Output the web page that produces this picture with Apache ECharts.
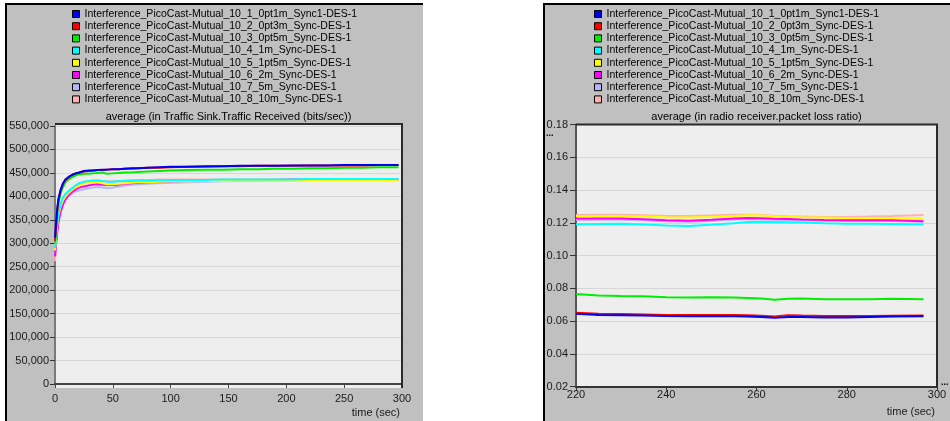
<!DOCTYPE html>
<html>
<head>
<meta charset="utf-8">
<script src="https://cdn.jsdelivr.net/npm/echarts@6/dist/echarts.min.js"></script>
<style>
  html, body { margin: 0; padding: 0; background: #ffffff; }
  #chart { width: 950px; height: 421px; }
</style>
</head>
<body>
<div id="chart"></div>
<script>
// Scenario names (legend entries) and their trace colours
const seriesNames = [
  'Interference_PicoCast-Mutual_10_1_0pt1m_Sync1-DES-1',
  'Interference_PicoCast-Mutual_10_2_0pt3m_Sync-DES-1',
  'Interference_PicoCast-Mutual_10_3_0pt5m_Sync-DES-1',
  'Interference_PicoCast-Mutual_10_4_1m_Sync-DES-1',
  'Interference_PicoCast-Mutual_10_5_1pt5m_Sync-DES-1',
  'Interference_PicoCast-Mutual_10_6_2m_Sync-DES-1',
  'Interference_PicoCast-Mutual_10_7_5m_Sync-DES-1',
  'Interference_PicoCast-Mutual_10_8_10m_Sync-DES-1'
];
const seriesColors = ['#0000F0', '#FF0000', '#00EE00', '#00FFFF', '#FFFF00', '#FF00FF', '#B4B4FF', '#FFB0B0'];

// Traffic Sink.Traffic Received (bits/sec), running average
const trafficTime = [0, 1, 2, 3, 5, 7, 9, 12, 15, 18, 21, 25, 29, 33, 37, 41, 45, 50, 55, 60, 66, 72, 80, 90, 100, 115, 130, 145, 160, 175, 190, 205, 220, 235, 250, 265, 280, 297];
const traffic_0pt1m = [312000, 345000, 375000, 395000, 415000, 428000, 436000, 442000, 446000, 449000, 451000, 454000, 455000, 455000, 456000, 457000, 457000, 458000, 458000, 459000, 460000, 460000, 461000, 462000, 463000, 463000, 464000, 464000, 465000, 465000, 465000, 466000, 466000, 466000, 467000, 467000, 467000, 467000];
const traffic_0pt3m = [305000, 340000, 372000, 393000, 414000, 427000, 435000, 441000, 446000, 449000, 451000, 453000, 454000, 455000, 456000, 456000, 457000, 458000, 458000, 459000, 459000, 460000, 461000, 461000, 462000, 463000, 463000, 464000, 464000, 465000, 465000, 465000, 466000, 466000, 466000, 466000, 467000, 467000];
const traffic_0pt5m = [300000, 335000, 365000, 385000, 408000, 420000, 430000, 437000, 441000, 445000, 447000, 448000, 448000, 449000, 450000, 451000, 448000, 449000, 450000, 451000, 451000, 452000, 453000, 454000, 455000, 456000, 457000, 457000, 458000, 458000, 459000, 459000, 460000, 460000, 461000, 461000, 462000, 462000];
const traffic_1m    = [290000, 320000, 345000, 365000, 385000, 398000, 405000, 412000, 418000, 424000, 428000, 431000, 433000, 434000, 434000, 433000, 431000, 431000, 432000, 433000, 433000, 434000, 434000, 434000, 435000, 435000, 435000, 436000, 436000, 436000, 436000, 436000, 437000, 437000, 437000, 437000, 437000, 437000];
const traffic_1pt5m = [285000, 315000, 340000, 360000, 380000, 392000, 400000, 408000, 414000, 419000, 423000, 427000, 429000, 430000, 430000, 428000, 426000, 426000, 427000, 428000, 429000, 430000, 430000, 431000, 432000, 432000, 433000, 433000, 434000, 434000, 434000, 434000, 435000, 435000, 435000, 435000, 435000, 435000];
const traffic_2m    = [272000, 300000, 325000, 345000, 368000, 383000, 393000, 403000, 410000, 415000, 419000, 421000, 423000, 425000, 426000, 425000, 424000, 424000, 425000, 427000, 428000, 429000, 430000, 431000, 432000, 433000, 434000, 434000, 435000, 435000, 435000, 436000, 436000, 436000, 436000, 436000, 436000, 436000];
const traffic_5m    = [280000, 305000, 330000, 350000, 372000, 386000, 395000, 403000, 407000, 411000, 413000, 415000, 417000, 419000, 420000, 419000, 418000, 419000, 421000, 423000, 425000, 426000, 427000, 428000, 429000, 430000, 431000, 432000, 433000, 433000, 434000, 434000, 435000, 435000, 435000, 436000, 436000, 436000];
const traffic_10m   = [262000, 300000, 330000, 352000, 378000, 393000, 402000, 410000, 417000, 422000, 426000, 430000, 432000, 433000, 434000, 433000, 432000, 432000, 433000, 434000, 435000, 435000, 435000, 436000, 436000, 436000, 436000, 436000, 436000, 436000, 436000, 436000, 436000, 436000, 436000, 436000, 436000, 436000];

// radio receiver.packet loss ratio, running average (220 s onwards)
const lossTime = [220, 225, 230, 235, 240, 245, 250, 255, 258, 261, 264, 267, 270, 275, 280, 285, 290, 297];
const loss_0pt1m = [0.0645, 0.0638, 0.0636, 0.0634, 0.0631, 0.0630, 0.0631, 0.0630, 0.0628, 0.0625, 0.0620, 0.0626, 0.0625, 0.0623, 0.0623, 0.0626, 0.0628, 0.0630];
const loss_0pt3m = [0.0652, 0.0645, 0.0643, 0.0641, 0.0638, 0.0637, 0.0638, 0.0638, 0.0636, 0.0633, 0.0628, 0.0636, 0.0634, 0.0631, 0.0631, 0.0632, 0.0633, 0.0634];
const loss_0pt5m = [0.0766, 0.0757, 0.0754, 0.0752, 0.0746, 0.0744, 0.0746, 0.0745, 0.0742, 0.0738, 0.0731, 0.0737, 0.0738, 0.0734, 0.0733, 0.0733, 0.0736, 0.0734];
const loss_1m    = [0.1191, 0.1193, 0.1194, 0.1190, 0.1184, 0.1181, 0.1188, 0.1198, 0.1205, 0.1206, 0.1205, 0.1204, 0.1202, 0.1198, 0.1195, 0.1194, 0.1193, 0.1190];
const loss_1pt5m = [0.1240, 0.1241, 0.1241, 0.1238, 0.1234, 0.1232, 0.1236, 0.1241, 0.1246, 0.1244, 0.1240, 0.1237, 0.1234, 0.1232, 0.1230, 0.1230, 0.1230, 0.1226];
const loss_2m    = [0.1226, 0.1226, 0.1226, 0.1222, 0.1216, 0.1213, 0.1219, 0.1226, 0.1230, 0.1228, 0.1225, 0.1223, 0.1221, 0.1218, 0.1216, 0.1216, 0.1216, 0.1210];
const loss_5m    = [0.1218, 0.1219, 0.1219, 0.1215, 0.1210, 0.1207, 0.1213, 0.1220, 0.1224, 0.1222, 0.1219, 0.1217, 0.1215, 0.1212, 0.1211, 0.1211, 0.1211, 0.1206];
const loss_10m   = [0.1248, 0.1250, 0.1250, 0.1246, 0.1242, 0.1241, 0.1245, 0.1249, 0.1250, 0.1247, 0.1243, 0.1240, 0.1238, 0.1236, 0.1236, 0.1238, 0.1241, 0.1248];

const trafficSets = [traffic_0pt1m, traffic_0pt3m, traffic_0pt5m, traffic_1m, traffic_1pt5m, traffic_2m, traffic_5m, traffic_10m];
const lossSets = [loss_0pt1m, loss_0pt3m, loss_0pt5m, loss_1m, loss_1pt5m, loss_2m, loss_5m, loss_10m];

const FONT = '"Liberation Sans", Arial, sans-serif';
const PANEL = '#C0C0C0';
const PLOT_BG = '#EEEEEE';

function pairs(t, v) { return t.map((x, i) => [x, v[i]]); }

function makeSeries(sets, times, axisIdx) {
  return sets.map((vals, i) => ({
    name: seriesNames[i],
    type: 'line',
    xAxisIndex: axisIdx,
    yAxisIndex: axisIdx,
    data: pairs(times, vals),
    showSymbol: false,
    symbol: 'none',
    lineStyle: { color: seriesColors[i], width: 2 },
    itemStyle: { color: seriesColors[i] },
    z: 20 - i,
    silent: true
  }));
}

function legendAt(left) {
  return {
    left: left, top: 7.9, orient: 'vertical', padding: 0,
    icon: 'rect', itemWidth: 7, itemHeight: 7, itemGap: 0,
    selectedMode: false,
    data: seriesNames,
    itemStyle: { borderColor: '#000', borderWidth: 1 },
    textStyle: { fontFamily: FONT, fontSize: 10.5, color: '#000', lineHeight: 12.2, padding: [0, 0, 0, 0] }
  };
}

function titleAt(text, cx) {
  return {
    text: text, left: cx, top: 111, textAlign: 'center', padding: 0,
    textStyle: { fontFamily: FONT, fontSize: 11, fontWeight: 'normal', color: '#000' }
  };
}

const axisLabelStyle = { fontFamily: FONT, fontSize: 11, color: '#1a1a1a' };

const chart = echarts.init(document.getElementById('chart'));

chart.setOption({
  animation: false,
  backgroundColor: '#ffffff',
  title: [
    titleAt('average (in Traffic Sink.Traffic Received (bits/sec))', 228.5),
    titleAt('average (in radio receiver.packet loss ratio)', 756.5)
  ],
  legend: [legendAt(72), legendAt(594)],
  grid: [
    { left: 55, top: 126, width: 347, height: 258, containLabel: false },
    { left: 576, top: 124.5, width: 361, height: 262.2, containLabel: false }
  ],
  xAxis: [
    {
      type: 'value', gridIndex: 0, min: 0, max: 300, interval: 50, offset: 4,
      axisLine: { lineStyle: { color: '#444', width: 2 } },
      axisTick: { length: 4, lineStyle: { color: '#444' } },
      axisLabel: Object.assign({ margin: 5 }, axisLabelStyle),
      splitLine: { show: false }
    },
    {
      type: 'value', gridIndex: 1, min: 220, max: 300, interval: 20,
      axisLine: { lineStyle: { color: '#333', width: 2 } },
      axisTick: { length: 4, lineStyle: { color: '#333' } },
      axisLabel: Object.assign({ margin: 3 }, axisLabelStyle),
      splitLine: { show: false }
    }
  ],
  yAxis: [
    {
      type: 'value', gridIndex: 0, min: 0, max: 550000, interval: 50000,
      axisLine: { show: true, lineStyle: { color: '#7a7a7a', width: 2 } },
      axisTick: { show: true, length: 5, lineStyle: { color: '#333' } },
      axisLabel: Object.assign({ margin: 6, formatter: v => v.toLocaleString('en-US') }, axisLabelStyle),
      splitLine: { show: true, lineStyle: { color: '#D6D6D6', width: 1 } }
    },
    {
      type: 'value', gridIndex: 1, min: 0.02, max: 0.18, interval: 0.02,
      axisLine: { show: true, lineStyle: { color: '#555', width: 2 } },
      axisTick: { show: true, length: 6, lineStyle: { color: '#333' } },
      axisLabel: Object.assign({ margin: 8, formatter: v => v.toFixed(2) }, axisLabelStyle),
      splitLine: { show: true, lineStyle: { color: '#D6D6D6', width: 1 } }
    }
  ],
  graphic: {
    elements: [
      // panel backgrounds
      { type: 'rect', z: -20, shape: { x: 7, y: 4, width: 416, height: 417 }, style: { fill: PANEL } },
      { type: 'rect', z: -20, shape: { x: 544, y: 4, width: 406, height: 417 }, style: { fill: PANEL } },
      // panel borders (left and top)
      { type: 'polyline', z: -19, shape: { points: [[6, 421], [6, 4], [423, 4]] }, style: { stroke: '#000', lineWidth: 2, fill: null } },
      { type: 'polyline', z: -19, shape: { points: [[544, 421], [544, 4], [950, 4]] }, style: { stroke: '#000', lineWidth: 2, fill: null } },
      // plot area backgrounds
      { type: 'rect', z: -18, shape: { x: 55, y: 124, width: 347, height: 264 }, style: { fill: PLOT_BG } },
      { type: 'rect', z: -18, shape: { x: 576, y: 124.5, width: 361, height: 262.2 }, style: { fill: PLOT_BG } },
      // plot frames (top and right)
      { type: 'polyline', z: 40, shape: { points: [[55, 124], [402, 124], [402, 388]] }, style: { stroke: '#2a2a2a', lineWidth: 2, fill: null } },
      { type: 'polyline', z: 40, shape: { points: [[576, 124.5], [937, 124.5], [937, 386.7]] }, style: { stroke: '#2a2a2a', lineWidth: 2, fill: null } },
      // axis titles
      { type: 'text', z: 40, style: { text: 'time (sec)', x: 400, y: 413, textAlign: 'right', textVerticalAlign: 'middle', font: '11px ' + FONT, fill: '#1a1a1a' } },
      { type: 'text', z: 40, style: { text: 'time (sec)', x: 935, y: 411.5, textAlign: 'right', textVerticalAlign: 'middle', font: '11px ' + FONT, fill: '#1a1a1a' } },
      // truncated-range markers
      { type: 'text', z: 40, style: { text: '...', x: 546, y: 134, textAlign: 'left', textVerticalAlign: 'middle', font: 'bold 9px ' + FONT, fill: '#000' } },
      { type: 'text', z: 40, style: { text: '...', x: 941, y: 383, textAlign: 'left', textVerticalAlign: 'middle', font: 'bold 9px ' + FONT, fill: '#000' } }
    ]
  },
  series: makeSeries(trafficSets, trafficTime, 0).concat(makeSeries(lossSets, lossTime, 1))
});
</script>
</body>
</html>
